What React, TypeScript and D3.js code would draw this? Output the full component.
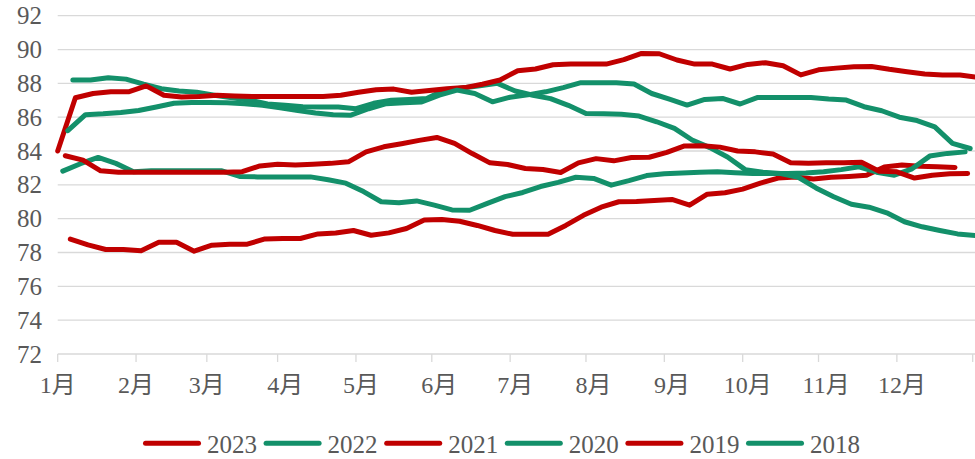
import React from 'react';
import * as d3 from 'd3';

const W = 975;
const H = 459;

// axis data
const yTicks = [72, 74, 76, 78, 80, 82, 84, 86, 88, 90, 92];
const monthLabels = ['1月', '2月', '3月', '4月', '5月', '6月', '7月', '8月', '9月', '10月', '11月', '12月'];
const monthLabelDays = [0, 31, 59, 90, 120, 151, 181, 212, 243, 273, 304, 334];
const tickMarkDays = [0, 31, 59, 87, 118, 148, 179, 209, 240, 271, 301, 332, 362];

// series
const years = ['2023', '2022', '2021', '2020', '2019', '2018'];
const seriesColors = ['#C00000', '#13906A', '#C00000', '#13906A', '#C00000', '#13906A'];
// day-of-year of the first weekly observation (weekly data)
const firstObsDay = [5, 6, 0, 2, 3, 4];

const s2023 = [78.79, 78.45, 78.18, 78.18, 78.1, 78.6, 78.6, 78.08, 78.43, 78.49, 78.49, 78.8, 78.83, 78.83, 79.1, 79.15, 79.3, 79.02, 79.16, 79.42, 79.92, 79.95, 79.85, 79.6, 79.3, 79.08, 79.08, 79.08, 79.6, 80.2, 80.68, 81.0, 81.02, 81.08, 81.14, 80.8, 81.45, 81.53, 81.75, 82.1, 82.4, 82.47, 82.35, 82.45, 82.5, 82.57, 83.05, 83.17, 83.1, 83.07, 83.03];
const s2022 = [88.2, 88.2, 88.33, 88.25, 87.95, 87.68, 87.55, 87.47, 87.3, 87.15, 87.0, 86.78, 86.7, 86.62, 86.6, 86.6, 86.5, 86.82, 87.0, 87.05, 87.1, 87.6, 87.72, 87.86, 88.0, 87.55, 87.3, 87.1, 86.7, 86.22, 86.2, 86.17, 86.07, 85.73, 85.34, 84.65, 84.2, 83.65, 82.9, 82.75, 82.67, 82.45, 81.82, 81.3, 80.85, 80.68, 80.35, 79.82, 79.52, 79.3, 79.1, 79.0];
const s2021 = [84.0, 87.15, 87.4, 87.5, 87.5, 87.85, 87.3, 87.2, 87.22, 87.3, 87.25, 87.22, 87.22, 87.22, 87.22, 87.22, 87.3, 87.47, 87.62, 87.66, 87.47, 87.58, 87.68, 87.75, 87.95, 88.2, 88.75, 88.85, 89.1, 89.14, 89.14, 89.14, 89.4, 89.77, 89.75, 89.38, 89.14, 89.14, 88.85, 89.12, 89.22, 89.04, 88.5, 88.8, 88.9, 88.98, 89.0, 88.83, 88.69, 88.55, 88.5, 88.5, 88.35];
const s2020 = [82.81, 83.25, 83.62, 83.27, 82.78, 82.83, 82.83, 82.83, 82.83, 82.83, 82.5, 82.47, 82.47, 82.47, 82.47, 82.3, 82.1, 81.6, 81.0, 80.94, 81.05, 80.8, 80.52, 80.5, 80.9, 81.3, 81.55, 81.9, 82.15, 82.45, 82.38, 81.98, 82.25, 82.55, 82.66, 82.7, 82.74, 82.77, 82.72, 82.67, 82.67, 82.67, 82.7, 82.77, 82.9, 83.07, 82.75, 82.57, 82.95, 83.7, 83.86, 83.95];
const s2019 = [83.72, 83.46, 82.83, 82.75, 82.75, 82.75, 82.75, 82.75, 82.75, 82.75, 82.78, 83.12, 83.22, 83.18, 83.22, 83.27, 83.36, 83.95, 84.25, 84.43, 84.63, 84.8, 84.45, 83.85, 83.3, 83.2, 82.97, 82.91, 82.73, 83.3, 83.55, 83.42, 83.62, 83.63, 83.92, 84.3, 84.31, 84.23, 84.0, 83.95, 83.82, 83.3, 83.27, 83.3, 83.3, 83.33, 82.8, 82.77, 82.4, 82.57, 82.65, 82.67];
const s2018 = [85.2, 86.15, 86.2, 86.28, 86.4, 86.6, 86.82, 86.87, 86.87, 86.85, 86.8, 86.7, 86.55, 86.4, 86.25, 86.15, 86.12, 86.5, 86.8, 86.85, 86.9, 87.3, 87.6, 87.4, 86.91, 87.18, 87.32, 87.5, 87.75, 88.04, 88.04, 88.04, 87.96, 87.4, 87.07, 86.72, 87.05, 87.11, 86.78, 87.17, 87.17, 87.17, 87.17, 87.07, 87.01, 86.62, 86.38, 86.0, 85.8, 85.43, 84.45, 84.15];

const seriesValues = [s2023, s2022, s2021, s2020, s2019, s2018];

const FONT = "'Liberation Serif', 'Noto Sans CJK SC', serif";
const TEXT_COLOR = '#595959';
const GRID_COLOR = '#d9d9d9';

export default function App() {
  const left = 57.7;
  const right = 972.7;
  const top = 15.7;
  const bottom = 354;

  const x = d3.scaleLinear().domain([0, 362]).range([left, right]);
  const y = d3.scaleLinear().domain([72, 92]).range([bottom, top]);

  const line = d3
    .line<{ d: number; v: number }>()
    .x((p) => x(p.d))
    .y((p) => y(p.v));

  const series = years.map((yr, k) => ({
    year: yr,
    color: seriesColors[k],
    points: seriesValues[k].map((v, i) => ({ d: firstObsDay[k] + 7 * i, v })),
  }));

  const legendStart = 145.5;
  const legendStep = 120.6;
  const legendY = 443.3;

  return (
    <svg
      width={W}
      height={H}
      style={{ position: 'absolute', left: 0, top: 0, background: '#fff' }}
      fontFamily={FONT}
    >
      <rect x={0} y={0} width={W} height={H} fill="#fff" />
      {/* grid */}
      {yTicks.map((t) => (
        <line key={'g' + t} x1={left} x2={975} y1={y(t)} y2={y(t)} stroke={GRID_COLOR} strokeWidth={1.3} />
      ))}
      {/* x tick marks */}
      {tickMarkDays.map((d, i) => (
        <line key={'t' + i} x1={x(d)} x2={x(d)} y1={bottom} y2={bottom + 8} stroke={GRID_COLOR} strokeWidth={1.3} />
      ))}
      {/* y labels */}
      {yTicks.map((t) => (
        <text key={'yl' + t} x={42} y={y(t) + 8.5} textAnchor="end" fontSize={25} fill={TEXT_COLOR}>
          {t}
        </text>
      ))}
      {/* x labels */}
      {monthLabels.map((m, i) => (
        <text key={'xl' + i} x={x(monthLabelDays[i])} y={393} textAnchor="middle" fontSize={24} fill={TEXT_COLOR}>
          {m}
        </text>
      ))}
      {/* series lines */}
      {series.map((s) => (
        <path
          key={s.year}
          d={line(s.points) || ''}
          fill="none"
          stroke={s.color}
          strokeWidth={5}
          strokeLinejoin="round"
          strokeLinecap="round"
        />
      ))}
      {/* legend */}
      {series.map((s, i) => {
        const lx = legendStart + i * legendStep;
        return (
          <g key={'lg' + s.year}>
            <line x1={lx} x2={lx + 53} y1={legendY} y2={legendY} stroke={s.color} strokeWidth={5} strokeLinecap="round" />
            <text x={lx + 61.5} y={452.5} fontSize={25} fill={TEXT_COLOR}>
              {s.year}
            </text>
          </g>
        );
      })}
    </svg>
  );
}
